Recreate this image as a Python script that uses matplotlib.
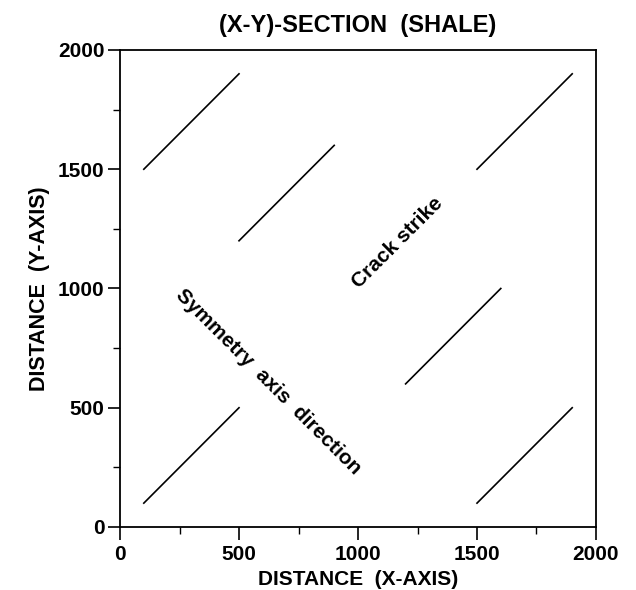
import matplotlib
matplotlib.use('Agg')
import matplotlib.pyplot as plt
from matplotlib.ticker import MultipleLocator

plt.rcParams['font.family'] = ['Liberation Sans', 'DejaVu Sans']
plt.rcParams['font.weight'] = 'bold'

# crack segments: start and end points
x_start = [100, 100, 500, 1200, 1500, 1500]
y_start = [100, 1500, 1200, 600, 100, 1500]
x_end = [500, 500, 900, 1600, 1900, 1900]
y_end = [500, 1900, 1600, 1000, 500, 1900]

fig = plt.figure(figsize=(6.36, 5.90), dpi=100)
ax = fig.add_axes([0.1887, 0.1068, 0.7484, 0.8085])

for xs, ys, xe, ye in zip(x_start, y_start, x_end, y_end):
    ax.plot([xs, xe], [ys, ye], color='black', lw=1.2)

ax.set_xlim(0, 2000)
ax.set_ylim(0, 2000)
ax.xaxis.set_major_locator(MultipleLocator(500))
ax.yaxis.set_major_locator(MultipleLocator(500))
ax.xaxis.set_minor_locator(MultipleLocator(250))
ax.yaxis.set_minor_locator(MultipleLocator(250))
ax.tick_params(which='major', direction='out', length=9, width=1.2, labelsize=15)
ax.tick_params(axis='x', which='major', pad=4)
ax.tick_params(axis='y', which='major', pad=2)
ax.tick_params(which='minor', direction='out', length=5, width=1.0)
for s in ax.spines.values():
    s.set_linewidth(1.3)

ax.text(1168, 1191, 'Crack strike', rotation=45, ha='center', va='center',
        fontsize=15, fontweight='bold')
ax.text(622, 608, 'Symmetry  axis  direction', rotation=-45, ha='center', va='center',
        fontsize=15, fontweight='bold')

ax.set_title('(X-Y)-SECTION  (SHALE)', fontsize=17, fontweight='bold', pad=13)
ax.set_xlabel('DISTANCE  (X-AXIS)', fontsize=15, fontweight='bold', labelpad=4)
ax.set_ylabel('DISTANCE  (Y-AXIS)', fontsize=15.5, fontweight='bold', labelpad=6)

fig.savefig('out.png', dpi=100)
